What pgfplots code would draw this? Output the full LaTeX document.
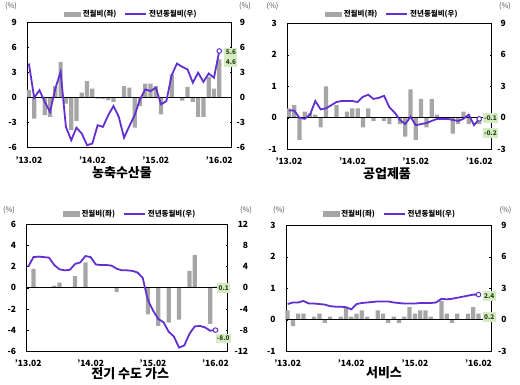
\documentclass[border=0pt]{standalone}
\usepackage{fontspec}
\setmainfont{Noto Sans CJK KR}
\usepackage{pgfplots}
\usepackage{pgfplotstable}
\pgfplotsset{compat=1.18}
\definecolor{barC}{RGB}{166,166,166}
\definecolor{lineC}{RGB}{98,48,206}
\definecolor{tagC}{RGB}{214,234,196}
\definecolor{tagT}{RGB}{40,70,20}
\definecolor{pctC}{RGB}{80,80,80}

% 농축수산물
\pgfplotstableread{
i b l
0 0.9 4.1
1 -2.5 0.0
2 0 0.9
3 -2.1 -0.5
4 -2.3 -1.7
5 1.4 1.1
6 4.3 3.1
7 -0.7 -3.5
8 -3.9 -5.1
9 -2.8 -3.6
10 0.6 -4.3
11 2.0 -5.7
12 1.1 -5.5
13 -0.1 -3.3
14 -0.15 -3.5
15 -0.3 -2.1
16 -0.5 -1.0
17 0.05 -2.3
18 1.4 -4.8
19 1.2 -3.4
20 -3.6 -2.1
21 -1.0 -0.2
22 1.7 1.0
23 1.7 0.8
24 1.4 1.2
25 -2.0 -0.8
26 0 -0.4
27 2.8 2.7
28 0 4.1
29 -0.35 3.7
30 1.3 3.4
31 -0.5 1.8
32 -2.3 3.0
33 -2.3 1.9
34 2.5 2.9
35 1.1 2.4
36 4.6 5.6
}\tabA

% 공업제품
\pgfplotstableread{
i b l
0 0.3 0.7
1 0.4 0.7
2 -0.7 0.0
3 0.2 -0.1
4 0.15 0.3
5 0.1 1.6
6 -0.3 0.8
7 1.0 0.9
8 0 1.2
9 0.4 1.5
10 0 1.6
11 0.2 1.6
12 0.3 1.6
13 0.3 1.5
14 -0.3 2.0
15 0.3 2.2
16 -0.1 1.8
17 0 1.9
18 -0.1 2.1
19 -0.2 1.0
20 0 0.5
21 -0.2 -0.2
22 -0.6 -0.6
23 0.9 0.1
24 -0.7 -0.7
25 0.6 -0.6
26 -0.3 -0.5
27 0.6 -0.3
28 0.1 -0.1
29 0 -0.1
30 0 -0.1
31 -0.5 -0.2
32 -0.2 -0.3
33 0.2 -0.1
34 -0.2 0.3
35 0 -0.7
36 -0.2 -0.1
}\tabB

% 전기 수도 가스
\pgfplotstableread{
i b l
0 0 4.0
1 1.8 5.8
2 0.05 5.9
3 0.05 5.8
4 0 5.7
5 0.2 4.3
6 0.5 3.5
7 0 3.3
8 0.05 3.4
9 1.1 4.5
10 0 4.8
11 2.4 6.0
12 0 5.8
13 0 4.4
14 0.03 4.3
15 0.05 4.3
16 0 4.2
17 -0.4 3.6
18 0.05 3.3
19 0 3.3
20 0 3.2
21 0 2.9
22 0 1.9
23 -2.5 -2.3
24 0 -4.3
25 -3.6 -5.9
26 0 -6.5
27 -3.3 -8.3
28 0 -9.2
29 -3.0 -11.3
30 0 -10.9
31 1.6 -8.7
32 3.1 -7.3
33 0.05 -7.2
34 0 -7.5
35 -3.4 -8.1
36 0.1 -8.0
}\tabC

% 서비스
\pgfplotstableread{
i b l
0 0.3 1.5
1 -0.2 1.65
2 0.2 1.65
3 0.2 1.8
4 0 1.55
5 0.1 1.55
6 0.2 1.5
7 -0.1 1.45
8 0.1 1.3
9 0 1.25
10 0.1 1.25
11 0.4 1.2
12 0.1 1.0
13 0.2 1.5
14 0.3 1.6
15 0.1 1.65
16 0 1.7
17 0.3 1.75
18 0.2 1.75
19 -0.1 1.75
20 0.1 1.65
21 -0.1 1.6
22 0.1 1.55
23 0.4 1.55
24 0.2 1.55
25 0.3 1.6
26 0.3 1.6
27 0.1 1.6
28 0 1.65
29 0.6 2.0
30 0.2 1.95
31 -0.1 2.0
32 0.2 2.1
33 0 2.2
34 0.2 2.3
35 0.4 2.4
36 0.2 2.4
}\tabD

\pgfplotsset{
  common/.style={
    scale only axis, anchor=south west, clip=false,
    xmin=-0.3, xmax=38.35,
    axis line style={line width=0.8pt},
    tick align=inside, major tick length=2pt,
    tick style={black, line width=0.6pt},
    /pgf/number format/assume math mode=true,
    ticklabel style={font=\fontsize{8.5}{8.5}\selectfont\bfseries},
  },
  leftax/.style={
    common,
    ytick pos=left,
    xtick={0,12,24,36},
    xticklabels={'13.02,'14.02,'15.02,'16.02},
    xtick style={draw=none},
    xticklabel style={yshift=-5pt},
    yticklabel style={xshift=-7pt},
  },
  rightax/.style={
    common,
    axis y line*=right, axis x line=none,
    legend style={at={(0.5,1)}, anchor=center, draw=none, fill=none,
      legend columns=2, inner sep=0pt,
      font=\fontsize{7.5}{8}\selectfont\bfseries,
      /tikz/every even column/.append style={column sep=6pt}},
  },
  barplot/.style={ybar, bar width=0.8, bar shift=0pt, fill=barC, draw=none},
  lineplot/.style={lineC, line width=1.8pt, mark=none,
    legend image code/.code={\draw[lineC, line width=1.8pt] (0pt,0pt) -- (21pt,0pt);}},
  endmark/.style={only marks, mark=*, mark size=2.3pt, forget plot,
    mark options={fill=white, draw=lineC, line width=1pt}},
}
\tikzset{
  tag/.style={fill=tagC, text=tagT, font=\fontsize{6.5}{6.5}\selectfont\bfseries,
    inner sep=0pt, minimum width=13pt, minimum height=9.5pt},
  pct/.style={font=\fontsize{7.5}{7.5}\selectfont, text=pctC},
  ttl/.style={font=\fontsize{13}{13}\selectfont\bfseries},
}
\newcommand{\barimg}{\addlegendimage{legend image code/.code={\fill[barC] (0pt,-2.3pt) rectangle (16pt,2.3pt);}}}

\begin{document}
\begin{tikzpicture}
\useasboundingbox (0,0) rectangle (520pt,384pt);

% ---------- Panel 1 ----------
\begin{axis}[leftax, at={(27.3pt,236.3pt)}, width=204.4pt, height=125pt,
  ymin=-6, ymax=9, ytick={-6,-3,...,9}]
  \addplot[barplot] table[x=i,y=b]{\tabA};
  \draw[black, line width=1pt] (axis cs:-0.3,0) -- (axis cs:38.35,0);
  \node[ttl, xshift=-7.5pt, yshift=-25.3pt] at (rel axis cs:0.5,0) {농축수산물};
  \node[pct, xshift=-16.3pt, yshift=16.2pt] at (rel axis cs:0,1) {(\%)};
  \node[pct, xshift=13.3pt, yshift=16.2pt] at (rel axis cs:1,1) {(\%)};
\end{axis}
\begin{axis}[rightax, at={(27.3pt,236.3pt)}, width=204.4pt, height=125pt,
  ymin=-6, ymax=9, ytick={-6,-3,...,9},
  yticklabel style={anchor=east, xshift=17pt},
  legend style={yshift=8.5pt, xshift=2pt}]
  \barimg \addlegendentry{전월비(좌)}
  \addplot[lineplot] table[x=i,y=l]{\tabA};
  \addlegendentry{전년동월비(우)}
  \addplot[endmark] table[x=i,y=l, skip coords between index={0}{36}]{\tabA};
  \node[tag] at (axis cs:38.2,5.43) {5.6};
  \node[tag] at (axis cs:38.2,4.29) {4.6};
\end{axis}

% ---------- Panel 2 ----------
\begin{axis}[leftax, at={(287.3pt,234.7pt)}, width=204.4pt, height=126pt,
  ymin=-1, ymax=3, ytick={-1,0,1,2,3}]
  \addplot[barplot] table[x=i,y=b]{\tabB};
  \draw[black, line width=1pt] (axis cs:-0.3,0) -- (axis cs:38.35,0);
  \node[ttl, xshift=-2.5pt, yshift=-24.7pt] at (rel axis cs:0.5,0) {공업제품};
  \node[pct, xshift=-14.8pt, yshift=17.3pt] at (rel axis cs:0,1) {(\%)};
  \node[pct, xshift=13.3pt, yshift=17.3pt] at (rel axis cs:1,1) {(\%)};
\end{axis}
\begin{axis}[rightax, at={(287.3pt,234.7pt)}, width=204.4pt, height=126pt,
  ymin=-3, ymax=9, ytick={-3,0,3,6,9},
  yticklabel style={anchor=east, xshift=17.7pt},
  legend style={yshift=9.3pt, xshift=3pt}]
  \barimg \addlegendentry{전월비(좌)}
  \addplot[lineplot] table[x=i,y=l]{\tabB};
  \addlegendentry{전년동월비(우)}
  \addplot[endmark] table[x=i,y=l, skip coords between index={0}{36}]{\tabB};
  \node[tag, minimum width=15pt] at (axis cs:38.1,0) {-0.1};
  \node[tag, minimum width=15pt] at (axis cs:38.1,-1.45) {-0.2};
\end{axis}

% ---------- Panel 3 ----------
\begin{axis}[leftax, at={(26.7pt,32.7pt)}, width=201pt, height=127pt,
  ymin=-6, ymax=6, ytick={-6,-4,...,6}]
  \addplot[barplot] table[x=i,y=b]{\tabC};
  \draw[black, line width=1pt] (axis cs:-0.3,0) -- (axis cs:38.35,0);
  \node[ttl, xshift=3pt, yshift=-22.7pt] at (rel axis cs:0.5,0) {전기 수도 가스};
  \node[pct, xshift=-17.7pt, yshift=14pt] at (rel axis cs:0,1) {(\%)};
  \node[pct, xshift=18.3pt, yshift=14pt] at (rel axis cs:1,1) {(\%)};
\end{axis}
\begin{axis}[rightax, at={(26.7pt,32.7pt)}, width=201pt, height=127pt,
  ymin=-12, ymax=12, ytick={-12,-8,...,12},
  yticklabel style={anchor=east, xshift=24pt},
  legend style={yshift=10.6pt, xshift=3pt}]
  \barimg \addlegendentry{전월비(좌)}
  \addplot[lineplot] table[x=i,y=l]{\tabC};
  \addlegendentry{전년동월비(우)}
  \addplot[endmark] table[x=i,y=l, skip coords between index={0}{36}]{\tabC};
  \node[tag] at (axis cs:37.6,0) {0.1};
  \node[tag, minimum width=15pt] at (axis cs:37.5,-9.6) {-8.0};
\end{axis}

% ---------- Panel 4 ----------
\begin{axis}[leftax, at={(286pt,32.7pt)}, width=205pt, height=126pt,
  ymin=-1, ymax=3, ytick={-1,0,1,2,3}]
  \addplot[barplot] table[x=i,y=b]{\tabD};
  \draw[black, line width=1pt] (axis cs:-0.3,0) -- (axis cs:38.35,0);
  \node[ttl, xshift=-4.5pt, yshift=-21.7pt] at (rel axis cs:0.5,0) {서비스};
  \node[pct, xshift=-7pt, yshift=15pt] at (rel axis cs:0,1) {(\%)};
  \node[pct, xshift=14.5pt, yshift=15pt] at (rel axis cs:1,1) {(\%)};
\end{axis}
\begin{axis}[rightax, at={(286pt,32.7pt)}, width=205pt, height=126pt,
  ymin=-3, ymax=9, ytick={-3,0,3,6,9},
  yticklabel style={anchor=east, xshift=19pt},
  legend style={yshift=11.6pt, xshift=1.5pt}]
  \barimg \addlegendentry{전월비(좌)}
  \addplot[lineplot] table[x=i,y=l]{\tabD};
  \addlegendentry{전년동월비(우)}
  \addplot[endmark] table[x=i,y=l, skip coords between index={0}{36}]{\tabD};
  \node[tag] at (axis cs:38,2.27) {2.4};
  \node[tag] at (axis cs:38,0.27) {0.2};
\end{axis}
\end{tikzpicture}
\end{document}
